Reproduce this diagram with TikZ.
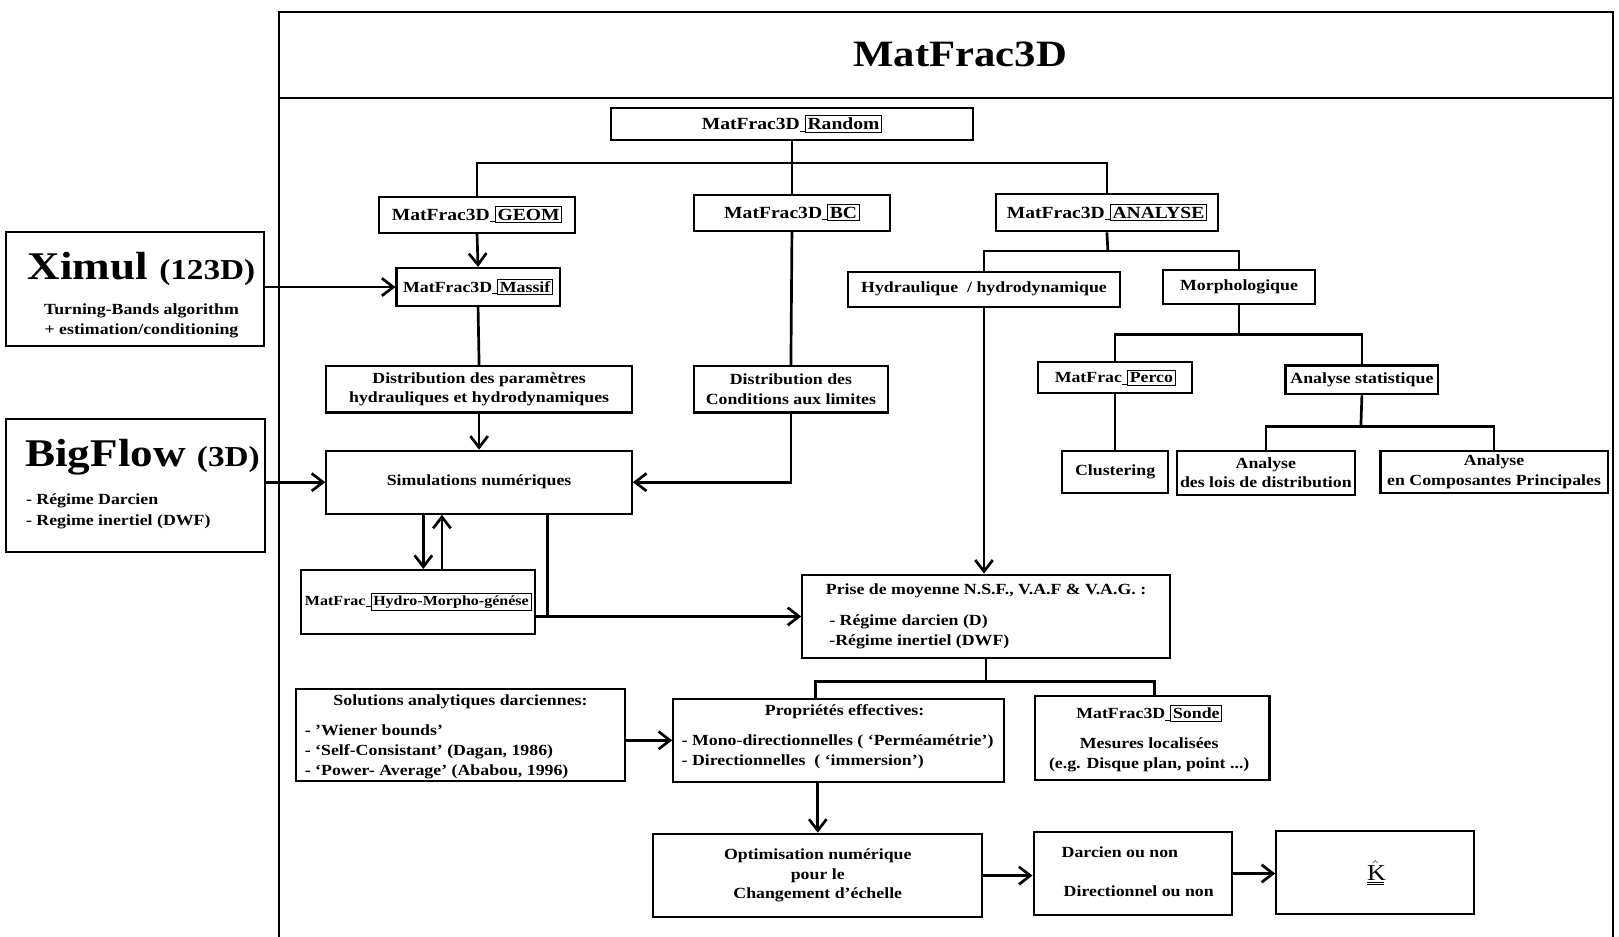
\documentclass[tikz,border=0pt]{standalone}
\usepackage{fontspec}
\setmainfont{Liberation Serif}[FakeStretch=1.15]
\usetikzlibrary{arrows.meta}

\newcommand{\bodyfont}{\bfseries\fontsize{15}{19}\selectfont}
\newcommand{\modbox}[1]{\rule[-1.5pt]{5pt}{0.6pt}{\setlength{\fboxsep}{1.8pt}\setlength{\fboxrule}{0.7pt}\fbox{#1}}}
\newcommand{\blk}[6]{\node[blk, minimum width=#4, minimum height=#5] (#1) at (#2,#3) {#6};}

\tikzset{
  blk/.style={draw, line width=2pt, inner sep=0pt, align=center, font=\bodyfont},
  txt/.style={inner sep=0pt, align=center, font=\bodyfont},
  lft/.style={txt, anchor=base west, align=left},
  wire/.style={line width=2.6pt},
  arr/.style={wire, -{Straight Barb[length=11pt, width=17pt]}},
}

\begin{document}
\begin{tikzpicture}[x=1pt, y=-1pt]
\useasboundingbox (0,0) rectangle (1568,907);

% frame and title
\draw[line width=2pt] (270,912) -- (270,12) -- (1562,12) -- (1562,912);
\draw[line width=2.4pt] (270,95) -- (1562,95);
\node[txt, font=\bfseries\fontsize{36}{40}\selectfont] (title) at (930,53) {MatFrac3D};

% modules
\blk{rnd}{767}{120}{350}{31}{\fontsize{16.5}{19}\selectfont MatFrac3D\modbox{Random}}
\blk{geom}{462}{208}{189}{35}{\fontsize{16.5}{19}\selectfont MatFrac3D\modbox{GEOM}}
\blk{bc}{767}{206}{190}{35}{\fontsize{16.5}{19}\selectfont MatFrac3D\modbox{BC}}
\blk{anl}{1072}{206}{215}{36}{\fontsize{16.5}{19}\selectfont MatFrac3D\modbox{ANALYSE}}
\blk{mas}{463}{278}{158}{37}{MatFrac3D\modbox{Massif}}

% external codes
\blk{ximul}{131}{280}{250}{110}{}
\node[txt, anchor=base] (ximulname) at (137,271) {\fontsize{38}{44}\selectfont Ximul \fontsize{28}{32}\selectfont(123D)};
\node[txt] (ximulnote) at (137,311) {Turning-Bands algorithm\\+ estimation/conditioning};
\blk{bigf}{131}{470}{251}{129}{}
\node[txt, anchor=base] (bigfname) at (138,452) {\fontsize{38}{44}\selectfont BigFlow \fontsize{28}{32}\selectfont(3D)};
\node[lft] (bigfa) at (25,489) {- Régime Darcien};
\node[lft] (bigfb) at (25,509) {- Regime inertiel (DWF)};

% simulation chain
\blk{dpar}{464}{377}{296}{45}{Distribution des paramètres\\hydrauliques et hydrodynamiques}
\blk{sim}{464}{467}{296}{61}{Simulations numériques}
\blk{dcl}{766}{377}{188}{45}{Distribution des\\Conditions aux limites}
\blk{hmg}{405}{583}{227}{62}{\fontsize{13.5}{17}\selectfont MatFrac\modbox{Hydro-Morpho-génése}}

% analysis tree
\blk{hyd}{953}{280}{264}{34}{Hydraulique \ / hydrodynamique}
\blk{mor}{1200}{278}{147}{33}{Morphologique}
\blk{per}{1080}{366}{149}{30}{MatFrac\modbox{Perco}}
\blk{ast}{1319}{368}{148}{28}{Analyse statistique}
\blk{clu}{1080}{457}{103}{41}{Clustering}
\blk{lois}{1226}{458}{173}{43}{Analyse\\des lois de distribution}
\blk{acp}{1447}{457}{220}{41}{Analyse\\en Composantes Principales}

% averaging and upscaling
\blk{prise}{955}{597}{356}{81}{}
\node[txt, anchor=base] (prisehead) at (955,576) {Prise de moyenne N.S.F., V.A.F \& V.A.G. :};
\node[lft] (prisea) at (803,606) {- Régime darcien (D)};
\node[lft] (priseb) at (803,625) {-Régime inertiel (DWF)};

\blk{sol}{446}{712}{319}{89}{}
\node[txt, anchor=base] (solhead) at (446,683) {Solutions analytiques darciennes:};
\node[lft] (sola) at (295,712) {- ’Wiener bounds’};
\node[lft] (solb) at (295,732) {- ‘Self-Consistant’ (Dagan, 1986)};
\node[lft] (solc) at (295,751) {- ‘Power- Average’ (Ababou, 1996)};

\blk{prop}{812}{717}{320}{80}{}
\node[txt, anchor=base] (prophead) at (818,693) {Propriétés effectives:};
\node[lft] (propa) at (660,722) {- Mono-directionnelles ( ‘Perméamétrie’)};
\node[lft] (propb) at (660,741) {- Directionnelles \ ( ‘immersion’)};

\blk{sonde}{1116}{715}{227}{81}{}
\node[txt] (sondename) at (1113,691) {MatFrac3D\modbox{Sonde}};
\node[txt] (sondenote) at (1113,731) {Mesures localisées\\(e.g. Disque plan, point ...)};

\blk{opt}{792}{848}{319}{81}{Optimisation numérique\\pour le\\Changement d’échelle}
\blk{dar}{1097}{846}{192}{80}{}
\node[lft] (dara) at (1028,830) {Darcien ou non};
\node[lft] (darb) at (1030,868) {Directionnel ou non};
\blk{khat}{1332}{845}{192}{80}{\mdseries\fontsize{22}{24}\selectfont$\underline{\underline{\hat{\mathrm{K}}}}$}

% branch points
\coordinate (jrnd) at (767,158);
\coordinate (janl) at (1073,243);
\coordinate (jmor) at (1200,324);
\coordinate (jast) at (1318,413);
\coordinate (jpl) at (790,660);
\coordinate (jpr) at (1118,660);
\coordinate (sdn) at ([xshift=-54pt]sim.south);
\coordinate (sup) at ([xshift=-36pt]sim.south);
\coordinate (sout) at ([xshift=66pt]sim.south);

% connectors
\draw[wire] (rnd.south) -- (bc.north);
\draw[wire] (geom.north) |- (jrnd) -| (anl.north);
\draw[arr] (geom.south) -- (mas.north);
\draw[arr] (ximul.east |- mas.west) -- (mas.west);
\draw[wire] (mas.south) -- (dpar.north);
\draw[arr] (dpar.south) -- (sim.north);
\draw[arr] (bigf.east |- sim.west) -- (sim.west);
\draw[wire] (bc.south) -- (dcl.north);
\draw[arr] (dcl.south) |- (sim.east);
\draw[arr] (sdn) -- (sdn |- hmg.north);
\draw[arr] (sup |- hmg.north) -- (sup);
\draw[arr] (sout) |- (prise.west);
\draw[wire] (hmg.east |- prise.west) -- (sout |- prise.west);

\draw[wire] (anl.south) -- (janl);
\draw[wire] (hyd.north) |- (janl) -| (mor.north);
\draw[arr] (hyd.south) -- (hyd.south |- prise.north);
\draw[wire] (mor.south) -- (jmor);
\draw[wire] (per.north) |- (jmor) -| (ast.north);
\draw[wire] (per.south) -- (per.south |- clu.north);
\draw[wire] (ast.south) -- (jast);
\draw[wire] (lois.north) |- (jast) -| (acp.north);

\draw[wire] (prise.south) -- (prise.south |- jpl);
\draw[wire] (jpl |- prop.north) -- (jpl) -- (jpr) -- (jpr |- sonde.north);
\draw[arr] (sol.east |- prop.west) -- (prop.west);
\draw[arr] (opt.north |- prop.south) -- (opt.north);
\draw[arr] (opt.east) -- (opt.east -| dar.west);
\draw[arr] (dar.east) -- (dar.east -| khat.west);
\end{tikzpicture}
\end{document}
